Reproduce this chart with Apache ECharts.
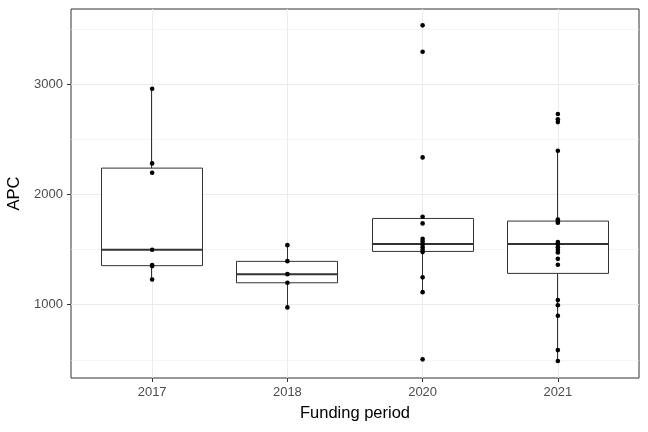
<!DOCTYPE html>
<html>
<head>
<meta charset="utf-8">
<script src="https://cdn.jsdelivr.net/npm/echarts@6/dist/echarts.min.js"></script>
<style>
html,body{margin:0;padding:0;background:#fff;}
#chart{width:648px;height:432px;}
</style>
</head>
<body>
<div id="chart"></div>
<script>
// ---- data ----
var categories = ['2017', '2018', '2020', '2021'];
var whiskerLow  = [1229, 976, 1114, 490];
var q1          = [1354, 1199, 1483, 1284];
var median      = [1498, 1277, 1550, 1550];
var q3          = [2238, 1393, 1782, 1758];
var whiskerHigh = [2957, 1540, 1797, 2395];

var points2017 = [2957, 2281, 2196, 1498, 1359, 1350, 1229];
var points2018 = [1540, 1395, 1277, 1199, 976];
var points2020 = [3532, 3293, 2335, 1797, 1737, 1598, 1574, 1547, 1522, 1498, 1477, 1248, 1114, 505];
var points2021 = [2728, 2680, 2655, 2395, 1773, 1758, 1743, 1568, 1547, 1522, 1498, 1474, 1416, 1362, 1042, 995, 900, 589, 490];

var yMajorTicks = [1000, 2000, 3000];
var yMinorTicks = [500, 1500, 2500, 3500];
var yMin = 336, yMax = 3680;

// ---- build series data ----
// candlestick item: [open, close, lowest, highest] -> box from q1 to q3, whiskers without caps
var boxData = categories.map(function (c, i) {
  return [q1[i], q3[i], whiskerLow[i], whiskerHigh[i]];
});
var medianData = categories.map(function (c, i) {
  return [median[i], median[i], median[i], median[i], median[i]];
});
var pointGroups = [points2017, points2018, points2020, points2021];
var scatterData = [];
pointGroups.forEach(function (arr, i) {
  arr.forEach(function (v) { scatterData.push([i, v]); });
});

var FONT = "'Liberation Sans', Arial, sans-serif";
var chart = echarts.init(document.getElementById('chart'), null, {renderer: 'canvas'});

var panelLeft = 71, panelRight = 9, panelTop = 9, panelBottom = 54;
var panelWidth = 648 - panelLeft - panelRight;
var band = panelWidth / 4.2;
var innerLeft = panelLeft + band * 0.1;
var innerRight = panelRight + band * 0.1;
var boxW = band * 0.75;

chart.setOption({
  animation: false,
  backgroundColor: '#ffffff',
  grid: [
    {left: panelLeft, right: panelRight, top: panelTop, bottom: panelBottom, outerBoundsMode: 'none',
     show: true, borderColor: '#333333', borderWidth: 1, backgroundColor: 'transparent'},
    {left: innerLeft, right: innerRight, top: panelTop, bottom: panelBottom, outerBoundsMode: 'none'}
  ],
  xAxis: [
    {type: 'value', gridIndex: 0, min: 0.4, max: 4.6,
     axisLine: {show: false},
     axisTick: {show: true, length: 4, customValues: [1, 2, 3, 4], lineStyle: {color: '#333333', width: 1}},
     axisLabel: {show: true, customValues: [1, 2, 3, 4], margin: 8,
       color: '#4D4D4D', fontSize: 13, fontFamily: FONT,
       formatter: function (v) { return categories[Math.round(v) - 1]; }},
     splitLine: {show: true, lineStyle: {color: '#EBEBEB', width: 1}},
     name: 'Funding period', nameLocation: 'middle', nameGap: 27,
     nameTextStyle: {color: '#000000', fontSize: 16.5, fontFamily: FONT}
    },
    {type: 'category', gridIndex: 1, data: categories, boundaryGap: true, show: false}
  ],
  yAxis: [
    {type: 'value', gridIndex: 0, min: yMin, max: yMax, position: 'left',
     axisLine: {show: false},
     axisTick: {show: true, length: 4, customValues: yMajorTicks, lineStyle: {color: '#333333', width: 1}},
     axisLabel: {show: true, customValues: yMajorTicks, margin: 8,
       color: '#4D4D4D', fontSize: 13, fontFamily: FONT,
       formatter: function (v) { return String(v); }},
     splitLine: {show: true, lineStyle: {color: '#EBEBEB', width: 1}},
     name: 'APC', nameLocation: 'middle', nameGap: 46,
     nameTextStyle: {color: '#000000', fontSize: 16.5, fontFamily: FONT}
    },
    {type: 'value', gridIndex: 0, min: yMin, max: yMax, position: 'right',
     axisLine: {show: false},
     axisTick: {show: false, customValues: yMinorTicks},
     axisLabel: {show: false, customValues: yMinorTicks},
     splitLine: {show: true, lineStyle: {color: '#EFEFEF', width: 0.6}}
    },
    {type: 'value', gridIndex: 1, min: yMin, max: yMax, show: false, splitLine: {show: false}}
  ],
  series: [
    {type: 'candlestick', xAxisIndex: 1, yAxisIndex: 2, data: boxData,
     barWidth: boxW,
     itemStyle: {color: '#ffffff', color0: '#ffffff', borderColor: '#333333', borderColor0: '#333333',
                 borderColorDoji: '#333333', borderWidth: 1},
     emphasis: {disabled: true}, silent: true},
    {type: 'boxplot', xAxisIndex: 1, yAxisIndex: 2, data: medianData,
     boxWidth: [boxW, boxW],
     itemStyle: {color: '#333333', borderColor: '#333333', borderWidth: 2},
     emphasis: {disabled: true}, silent: true},
    {type: 'scatter', xAxisIndex: 1, yAxisIndex: 2, data: scatterData,
     symbol: 'circle', symbolSize: 4.6,
     itemStyle: {color: '#000000', opacity: 1}, silent: true}
  ]
});
</script>
</body>
</html>
